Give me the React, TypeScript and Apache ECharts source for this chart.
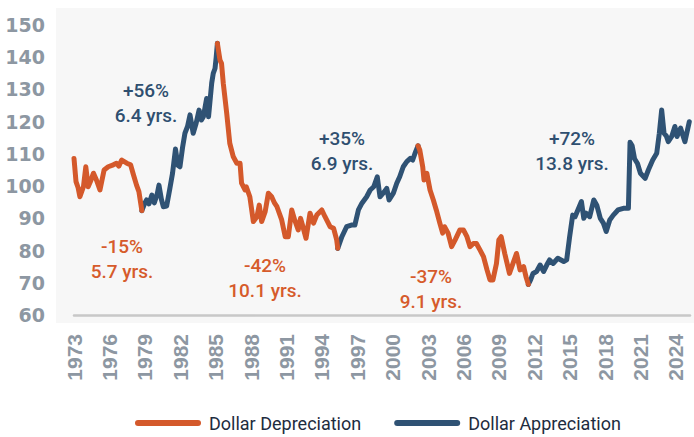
import React, { useEffect, useRef } from "react";
import * as echarts from "echarts";

// ---- data (decimal year, index value) ----
const years: number[] = [
  1973.0, 1973.17, 1973.35, 1973.5, 1973.8, 1974.0, 1974.2, 1974.4, 1974.65, 1974.9,
  1975.2, 1975.55, 1975.9, 1976.33, 1976.6, 1976.8, 1977.04, 1977.47, 1977.8, 1978.0,
  1978.3, 1978.5, 1978.75,
  1979.0, 1979.15, 1979.35, 1979.6, 1979.8, 1980.05, 1980.2, 1980.4, 1980.57, 1980.85,
  1981.1, 1981.35, 1981.6, 1981.8, 1981.98, 1982.2, 1982.4, 1982.62, 1982.83, 1983.1,
  1983.35, 1983.6, 1983.8, 1983.96, 1984.24, 1984.4, 1984.67, 1984.8, 1984.95, 1985.05,
  1985.15,
  1985.37, 1985.5, 1985.65, 1985.94, 1986.2, 1986.5, 1986.8, 1987.07, 1987.2, 1987.5,
  1987.6, 1987.9, 1988.2, 1988.5, 1988.7, 1988.9, 1989.2, 1989.47, 1989.75, 1990.0,
  1990.2, 1990.6, 1990.9, 1991.16, 1991.45, 1991.7, 1992.0, 1992.2, 1992.4, 1992.66,
  1993.0, 1993.3, 1993.57, 1994.0, 1994.27, 1994.7, 1995.0, 1995.26, 1995.35,
  1995.7, 1996.1, 1996.5, 1996.8, 1997.1, 1997.4, 1997.8, 1998.1, 1998.4, 1998.7,
  1998.93, 1999.2, 1999.5, 1999.7, 2000.06, 2000.35, 2000.6, 2000.9, 2001.2, 2001.5,
  2001.7, 2001.9, 2002.15,
  2002.3, 2002.55, 2002.66, 2002.9, 2003.17, 2003.45, 2003.7, 2004.0, 2004.24, 2004.4,
  2004.7, 2005.0, 2005.3, 2005.7, 2006.0, 2006.3, 2006.56, 2006.84, 2007.1, 2007.4,
  2007.7, 2008.0, 2008.25, 2008.5, 2008.8, 2009.0, 2009.2, 2009.5, 2009.9, 2010.2,
  2010.5, 2010.8, 2011.1, 2011.3, 2011.5,
  2011.7, 2011.9, 2012.2, 2012.5, 2012.8, 2013.06, 2013.3, 2013.6, 2014.0, 2014.5,
  2014.75, 2015.0, 2015.26, 2015.46, 2015.7, 2016.0, 2016.2, 2016.4, 2016.7, 2017.05,
  2017.3, 2017.6, 2017.86, 2018.1, 2018.4, 2018.7, 2019.1, 2019.55, 2019.98, 2020.12,
  2020.3, 2020.5, 2020.75, 2021.0, 2021.4, 2021.67, 2022.04, 2022.38, 2022.6, 2022.8,
  2023.0, 2023.2, 2023.36, 2023.65, 2023.92, 2024.1, 2024.4, 2024.77, 2025.14,
];

const dollarIndex: number[] = [
  108.6, 101.4, 99.5, 96.7, 99.8, 106.0, 99.8, 101.5, 104.0, 101.9,
  98.8, 105.0, 106.0, 106.6, 107.1, 106.2, 108.1, 107.1, 106.6, 104.0,
  100.3, 98.3, 92.4,
  94.7, 95.7, 94.5, 97.2, 94.8, 97.5, 100.3, 96.0, 93.6, 93.8,
  98.8, 104.0, 111.5, 106.5, 106.0, 112.0, 116.4, 118.5, 122.1, 116.4,
  119.5, 123.6, 120.5, 121.5, 127.2, 121.5, 132.0, 135.0, 136.5, 140.0,
  144.3,
  139.1, 138.1, 131.9, 122.6, 113.3, 109.1, 107.1, 107.1, 100.9, 98.8,
  99.8, 96.7, 89.0, 90.5, 94.1, 89.0, 92.1, 97.8, 96.7, 94.7,
  93.6, 89.5, 84.3, 84.3, 92.6, 89.5, 86.4, 90.0, 87.4, 83.8,
  91.6, 88.5, 91.0, 92.6, 90.5, 87.4, 86.9, 83.3, 80.7,
  84.3, 87.4, 87.9, 87.9, 92.6, 94.7, 96.7, 98.8, 99.8, 102.9,
  96.7, 97.8, 99.3, 95.7, 97.8, 100.9, 102.9, 106.0, 107.6, 108.6,
  108.1, 110.2, 112.5,
  111.2, 106.0, 101.9, 104.0, 98.8, 95.7, 92.6, 88.5, 85.4, 87.4,
  85.4, 81.2, 83.3, 86.4, 86.4, 84.3, 81.2, 82.2, 82.2, 80.2,
  78.1, 74.0, 70.9, 70.9, 76.0, 83.3, 84.3, 79.1, 72.9, 76.0,
  79.1, 74.0, 75.0, 71.9, 69.5,
  71.0, 72.9, 73.5, 75.5, 73.5, 75.5, 77.1, 76.0, 77.6, 76.6,
  77.1, 84.3, 91.0, 90.5, 92.6, 95.2, 90.0, 91.6, 90.5, 95.7,
  94.1, 90.0, 88.5, 85.9, 89.5, 91.0, 92.6, 93.1, 93.1, 113.6,
  112.5, 108.5, 107.0, 104.0, 102.4, 105.0, 108.1, 110.2, 116.4, 123.6,
  116.4, 115.5, 113.8, 115.4, 118.5, 115.4, 118.0, 113.8, 120.0,
];

// Turning points (start, peaks/troughs, end) and the phase between each pair
const turningYears: number[] = [1973.0, 1978.75, 1985.15, 1995.35, 2002.15, 2011.5, 2025.14];
const phaseNames: string[] = [
  "Dollar Depreciation", "Dollar Appreciation", "Dollar Depreciation",
  "Dollar Appreciation", "Dollar Depreciation", "Dollar Appreciation",
];
const phaseLabels: string[] = [
  "-15%\n5.7 yrs.", "+56%\n6.4 yrs.", "-42%\n10.1 yrs.",
  "+35%\n6.9 yrs.", "-37%\n9.1 yrs.", "+72%\n13.8 yrs.",
];

const xTickStart = 1973;
const xTickStep = 3;
const yTicks = { min: 60, max: 150, step: 10 };

const ORANGE = "#d4592b";
const NAVY = "#2f5274";
const ORANGE_TXT = "#d65b2b";
const NAVY_TXT = "#2f4f70";

// annotation label positions (layout only)
const labelPos: [number, number][] = [
  [122, 259], [146, 103], [265, 278], [342, 151], [431, 289], [572, 151],
];

export default function App() {
  const ref = useRef<HTMLDivElement>(null);
  useEffect(() => {
    if (!ref.current) return;
    const chart = echarts.init(ref.current, undefined, { renderer: "svg" });

    const series: any[] = [];
    for (let k = 0; k < phaseNames.length; k++) {
      const s = turningYears[k];
      const e = turningYears[k + 1];
      const data: [number, number][] = [];
      years.forEach((y, i) => {
        if (y >= s - 1e-9 && y <= e + 1e-9) data.push([y - xTickStart, dollarIndex[i]]);
      });
      const dep = phaseNames[k] === "Dollar Depreciation";
      const c = dep ? ORANGE : NAVY;
      series.push({
        type: "line",
        name: phaseNames[k],
        data,
        color: c,
        showSymbol: false,
        symbol: "none",
        lineStyle: { color: c, width: 5, cap: "round", join: "round" },
        z: dep ? 3 : 2,
      });
    }

    const graphics: any[] = [
      {
        type: "rect",
        shape: { x: 56, y: 8, width: 638, height: 315 },
        style: { fill: "#f7f7f7" },
        z: -100,
        silent: true,
      },
    ];
    phaseLabels.forEach((t, k) => {
      const dep = phaseNames[k] === "Dollar Depreciation";
      graphics.push({
        type: "text",
        x: labelPos[k][0],
        y: labelPos[k][1],
        z: 50,
        style: {
          text: t,
          fill: dep ? ORANGE_TXT : NAVY_TXT,
          fontFamily: "Roboto",
          fontSize: 19,
          fontWeight: 500,
          lineHeight: 25,
          align: "center",
          verticalAlign: "middle",
        },
      });
    });

    const xMax = 2025.2 - xTickStart;

    chart.setOption({
      animation: false,
      backgroundColor: "#ffffff",
      grid: { left: 74, right: 4, top: 25, bottom: 122 },
      xAxis: {
        type: "value",
        min: 0,
        max: xMax,
        interval: xTickStep,
        axisLine: { show: true, lineStyle: { color: "#c8c8c8", width: 2.5 } },
        axisTick: { show: false },
        splitLine: { show: false },
        axisLabel: {
          rotate: 90,
          margin: 19,
          color: "#8d97a2",
          fontFamily: "Liberation Sans",
          fontWeight: "bold",
          fontSize: 21,
          formatter: (v: number) =>
            Math.abs(v / xTickStep - Math.round(v / xTickStep)) < 1e-6 ? String(xTickStart + Math.round(v)) : "",
        },
      },
      yAxis: {
        type: "value",
        min: yTicks.min,
        max: yTicks.max,
        interval: yTicks.step,
        axisLine: { show: false },
        axisTick: { show: false },
        splitLine: { show: false },
        axisLabel: {
          margin: 29,
          color: "#8d97a2",
          fontFamily: "DejaVu Sans",
          fontWeight: "bold",
          fontSize: 19,
        },
      },
      legend: {
        data: ["Dollar Depreciation", "Dollar Appreciation"],
        left: 130,
        top: 408,
        itemWidth: 66,
        itemHeight: 6,
        itemGap: 33,
        icon: "path://M3,0 L63,0 A3,3 0 0 1 63,6 L3,6 A3,3 0 0 1 3,0 Z",
        itemStyle: { borderWidth: 0 },
        textStyle: {
          color: "#1e2c3e",
          fontFamily: "Roboto",
          fontSize: 18,
          lineHeight: 20,
          padding: [0, 0, 0, 3],
        },
      },
      graphic: graphics,
      series,
    });

    return () => chart.dispose();
  }, []);

  return (
    <div
      ref={ref}
      style={{ position: "fixed", left: 0, top: 0, width: 694, height: 437 }}
    />
  );
}
